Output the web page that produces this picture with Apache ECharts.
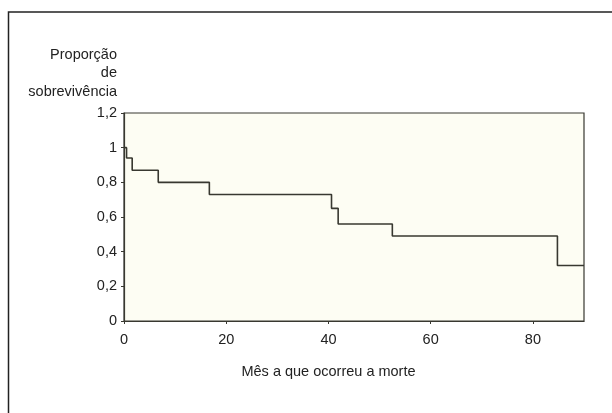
<!DOCTYPE html>
<html>
<head>
<meta charset="utf-8">
<script src="https://cdn.jsdelivr.net/npm/echarts@6/dist/echarts.min.js"></script>
<style>
  html, body { margin: 0; padding: 0; background: #ffffff; }
  #chart { width: 612px; height: 413px; }
</style>
</head>
<body>
<div id="chart"></div>
<script>
// Kaplan-Meier style survival steps (month of death, survival proportion)
const months = [0, 0.5, 1.6, 6.7, 16.7, 40.6, 41.9, 52.5, 84.8, 90];
const survival = [1, 0.94, 0.87, 0.80, 0.73, 0.65, 0.56, 0.49, 0.32, 0.32];
const xTicks = [0, 20, 40, 60, 80];
const yTicks = [0, 0.2, 0.4, 0.6, 0.8, 1, 1.2];
const yTitle = 'Proporção\nde\nsobrevivência';
const xTitle = 'Mês a que ocorreu a morte';

const lineColor = '#383830';
const textColor = '#222222';
const font = 'Liberation Sans, Arial, sans-serif';
const fs = 14.5;

const chart = echarts.init(document.getElementById('chart'), null, { renderer: 'canvas' });
chart.setOption({
  animation: false,
  backgroundColor: '#ffffff',
  grid: {
    left: 124, right: 28, top: 113, bottom: 92,
    show: true, backgroundColor: '#fdfdf3', borderColor: lineColor, borderWidth: 1.2
  },
  graphic: [{
    type: 'rect',
    shape: { x: 8.5, y: 12, width: 620, height: 420 },
    style: { fill: 'none', stroke: '#222', lineWidth: 1.5 },
    silent: true
  }],
  xAxis: {
    type: 'value', min: 0, max: 90, interval: 20,
    name: xTitle, nameLocation: 'middle', nameGap: 43,
    nameTextStyle: { color: textColor, fontSize: fs, fontFamily: font, padding: [0, 51, 0, 0] },
    axisLine: { show: true, onZero: false, lineStyle: { color: lineColor, width: 1.2 } },
    axisTick: { show: true, inside: false, length: 3, lineStyle: { color: lineColor } },
    axisLabel: {
      color: textColor, fontSize: fs, fontFamily: font, margin: 11,
      showMaxLabel: false,
      formatter: v => xTicks.includes(v) ? String(v) : ''
    },
    splitLine: { show: false }
  },
  yAxis: {
    type: 'value', min: 0, max: 1.2, interval: 0.2,
    name: yTitle, nameLocation: 'end', nameGap: 12,
    nameTextStyle: {
      color: textColor, fontSize: fs, fontFamily: font, align: 'right',
      verticalAlign: 'bottom', lineHeight: 18.5, padding: [0, 7, 0, 0]
    },
    axisLine: { show: true, lineStyle: { color: lineColor, width: 1.2 } },
    axisTick: { show: true, inside: false, length: 3, lineStyle: { color: lineColor } },
    axisLabel: {
      color: textColor, fontSize: fs, fontFamily: font, margin: 7,
      formatter: v => {
        const t = yTicks.find(y => Math.abs(y - v) < 1e-9);
        return t === undefined ? '' : String(Math.round(t * 10) / 10).replace('.', ',');
      }
    },
    splitLine: { show: false }
  },
  series: [{
    type: 'line',
    step: 'end',
    data: months.map((m, i) => [m, survival[i]]),
    showSymbol: false,
    lineStyle: { color: lineColor, width: 1.6 },
    silent: true
  }]
});
</script>
</body>
</html>
